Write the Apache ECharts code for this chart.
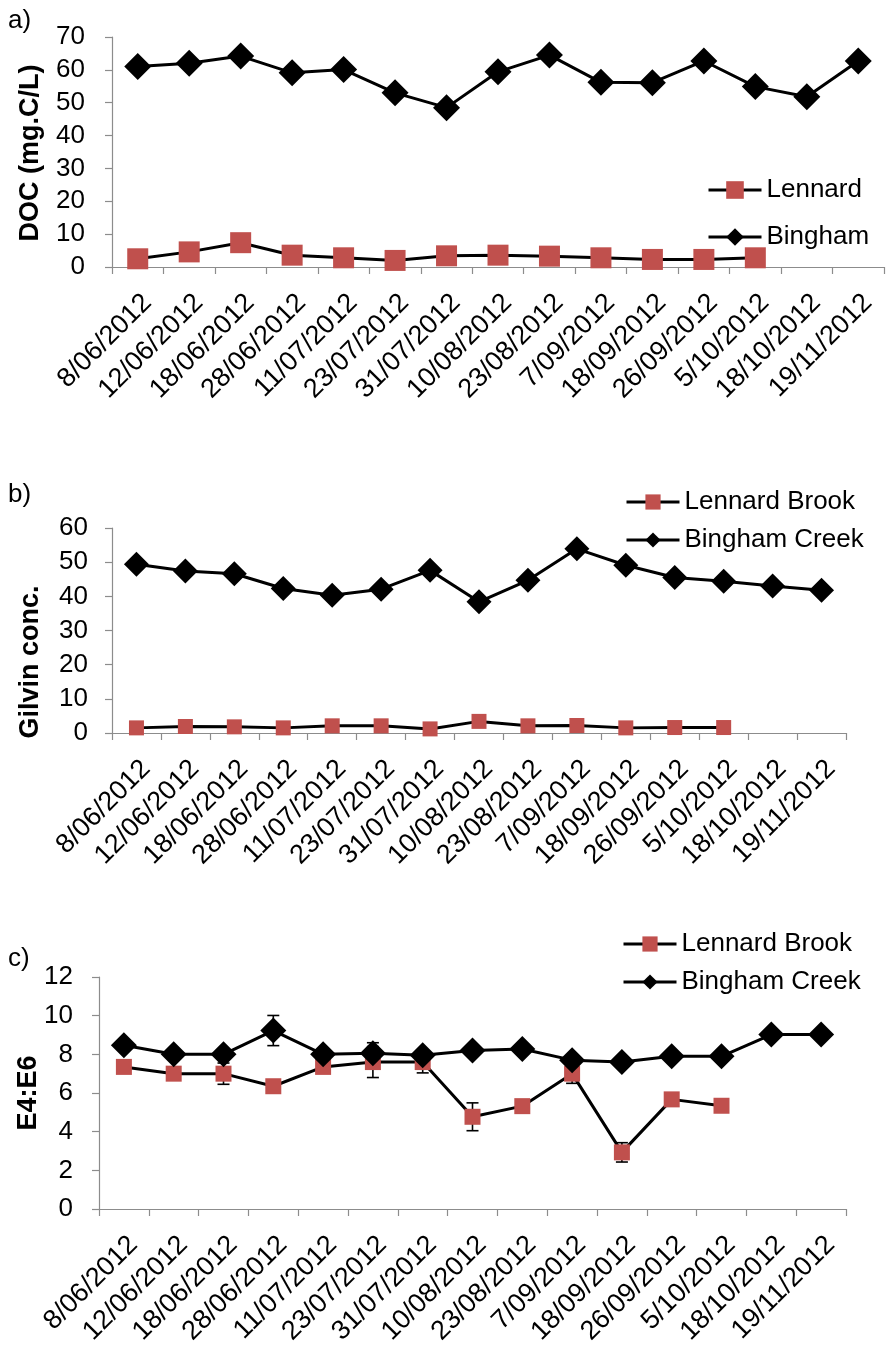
<!DOCTYPE html>
<html>
<head>
<meta charset="utf-8">
<script src="https://cdn.jsdelivr.net/npm/echarts@6/dist/echarts.min.js"></script>
<style>
  html, body { margin: 0; padding: 0; background: #fff; }
  #chart { width: 886px; height: 1345px; }
</style>
</head>
<body>
<div id="chart"></div>
<script>
// Sampling dates shared by all three panels
const dates = ['8/06/2012', '12/06/2012', '18/06/2012', '28/06/2012', '11/07/2012',
  '23/07/2012', '31/07/2012', '10/08/2012', '23/08/2012', '7/09/2012',
  '18/09/2012', '26/09/2012', '5/10/2012', '18/10/2012', '19/11/2012'];

// a) dissolved organic carbon (mg C/L)
const docLennard = [2.5, 4.6, 7.4, 3.6, 2.8, 2.0, 3.4, 3.6, 3.3, 2.8, 2.3, 2.3, 2.8];
const docBingham = [61.0, 62.0, 64.2, 59.1, 60.1, 53.0, 48.5, 59.4, 64.5, 56.2, 56.1, 62.7, 54.9, 51.8, 62.7];

// b) gilvin concentration
const gilvinLennard = [1.5, 1.9, 1.8, 1.5, 2.1, 2.1, 1.2, 3.4, 2.1, 2.2, 1.5, 1.6, 1.6];
const gilvinBingham = [49.4, 47.4, 46.6, 42.3, 40.3, 42.1, 47.6, 38.4, 44.7, 53.9, 49.1, 45.5, 44.4, 43.0, 41.8];

// c) E4:E6 ratio with standard deviations (null = no error bar)
const e4e6Lennard = [7.35, 7.0, 7.0, 6.35, 7.35, 7.6, 7.6, 4.77, 5.32, 7.0, 2.93, 5.67, 5.34];
const e4e6LennardSd = [null, null, 0.55, null, null, 0.8, 0.56, 0.72, null, 0.5, 0.5, null, null];
const e4e6Bingham = [8.47, 8.0, 8.0, 9.23, 8.0, 8.05, 7.95, 8.2, 8.28, 7.7, 7.6, 7.9, 7.9, 9.02, 9.02];
const e4e6BinghamSd = [null, null, null, 0.78, null, 0.55, null, null, null, null, null, null, null, null, null];

const FONT = "'Liberation Sans', Arial, sans-serif";
const RED = '#C0504D';
const AXIS_GREY = '#8c8c8c';

function errorRanges(means, sds) {
  const out = [];
  means.forEach((m, i) => {
    if (sds[i] != null) out.push([i, m - sds[i], m + sds[i]]);
  });
  return out;
}

function xAxisFor(gridIndex) {
  return {
    type: 'category', gridIndex, data: dates, boundaryGap: true,
    axisLine: { lineStyle: { color: AXIS_GREY, width: 1.2 } },
    axisTick: { show: true, interval: 0, length: 7, lineStyle: { color: AXIS_GREY, width: 1.2 } },
    // rotated date labels hang from their top-right corner at each category
    axisLabel: {
      interval: 0, rotate: 45, margin: 22, verticalAlign: 'top', align: 'right',
      color: '#000', fontFamily: FONT, fontSize: 27
    }
  };
}

function yAxisFor(gridIndex, max, interval, margin) {
  return {
    type: 'value', gridIndex, min: 0, max, interval,
    splitLine: { show: false },
    axisLine: { show: true, lineStyle: { color: AXIS_GREY, width: 1.2 } },
    axisTick: { show: true, length: 7, lineStyle: { color: AXIS_GREY, width: 1.2 } },
    axisLabel: { margin, color: '#000', fontFamily: FONT, fontSize: 26 }
  };
}

function lineSeries(name, data, axis, symbol, size, color) {
  return {
    type: 'line', name, data, xAxisIndex: axis, yAxisIndex: axis,
    symbol, symbolSize: size, showAllSymbol: true,
    lineStyle: { color: '#000', width: 3 },
    itemStyle: { color, borderWidth: 0 },
    z: 3
  };
}

function errorBarSeries(axis, ranges) {
  return {
    type: 'custom', xAxisIndex: axis, yAxisIndex: axis, data: ranges,
    encode: { x: 0, y: [1, 2] }, z: 2, silent: true,
    renderItem(params, api) {
      const idx = api.value(0);
      const lo = api.coord([idx, api.value(1)]);
      const hi = api.coord([idx, api.value(2)]);
      const cap = 6;
      const st = { stroke: '#000', lineWidth: 1.6 };
      return {
        type: 'group',
        children: [
          { type: 'line', shape: { x1: lo[0], y1: lo[1], x2: hi[0], y2: hi[1] }, style: st },
          { type: 'line', shape: { x1: lo[0] - cap, y1: lo[1], x2: lo[0] + cap, y2: lo[1] }, style: st },
          { type: 'line', shape: { x1: hi[0] - cap, y1: hi[1], x2: hi[0] + cap, y2: hi[1] }, style: st }
        ]
      };
    }
  };
}

function legendFor(names, left, top, gap, iconHeight) {
  return {
    orient: 'vertical', left, top, padding: 0, itemGap: gap,
    itemWidth: 53, itemHeight: iconHeight, data: names,
    lineStyle: { color: '#000', width: 3 },
    textStyle: { color: '#000', fontFamily: FONT, fontSize: 26 }
  };
}

function panelText(text, x, y) {
  return { type: 'text', left: x, top: y, style: { text, fill: '#000', font: '26px ' + FONT } };
}

function axisTitle(text, cx, cy) {
  return {
    type: 'text', x: cx, y: cy, rotation: Math.PI / 2,
    style: { text, fill: '#000', font: 'bold 27px ' + FONT, align: 'center', verticalAlign: 'middle' }
  };
}

const option = {
  animation: false,
  backgroundColor: '#fff',
  grid: [
    { left: 112, top: 37, width: 772, height: 230, outerBoundsMode: 'none' },
    { left: 112, top: 528, width: 734, height: 205, outerBoundsMode: 'none' },
    { left: 99, top: 977, width: 747, height: 232, outerBoundsMode: 'none' }
  ],
  xAxis: [xAxisFor(0), xAxisFor(1), xAxisFor(2)],
  yAxis: [yAxisFor(0, 70, 10, 27), yAxisFor(1, 60, 10, 24), yAxisFor(2, 12, 2, 26)],
  legend: [
    legendFor(['Lennard', 'Bingham'], 707, 177, 21, 22),
    legendFor(['Lennard Brook', 'Bingham Creek'], 625, 489, 12, 19),
    legendFor(['Lennard Brook', 'Bingham Creek'], 622, 931, 12, 19)
  ],
  graphic: [
    panelText('a)', 8, 8),
    panelText('b)', 8, 482),
    panelText('c)', 8, 946),
    axisTitle('DOC (mg.C/L)', 31, 153),
    axisTitle('Gilvin conc.', 31, 662),
    axisTitle('E4:E6', 29, 1093)
  ],
  series: [
    lineSeries('Lennard', docLennard, 0, 'rect', 21, RED),
    lineSeries('Bingham', docBingham, 0, 'diamond', 27, '#000'),
    lineSeries('Lennard Brook', gilvinLennard, 1, 'rect', 15, RED),
    lineSeries('Bingham Creek', gilvinBingham, 1, 'diamond', 25, '#000'),
    errorBarSeries(2, errorRanges(e4e6Lennard, e4e6LennardSd)),
    errorBarSeries(2, errorRanges(e4e6Bingham, e4e6BinghamSd)),
    lineSeries('Lennard Brook', e4e6Lennard, 2, 'rect', 16, RED),
    lineSeries('Bingham Creek', e4e6Bingham, 2, 'diamond', 26, '#000')
  ]
};

const chart = echarts.init(document.getElementById('chart'), null, { renderer: 'canvas' });
chart.setOption(option);
</script>
</body>
</html>
